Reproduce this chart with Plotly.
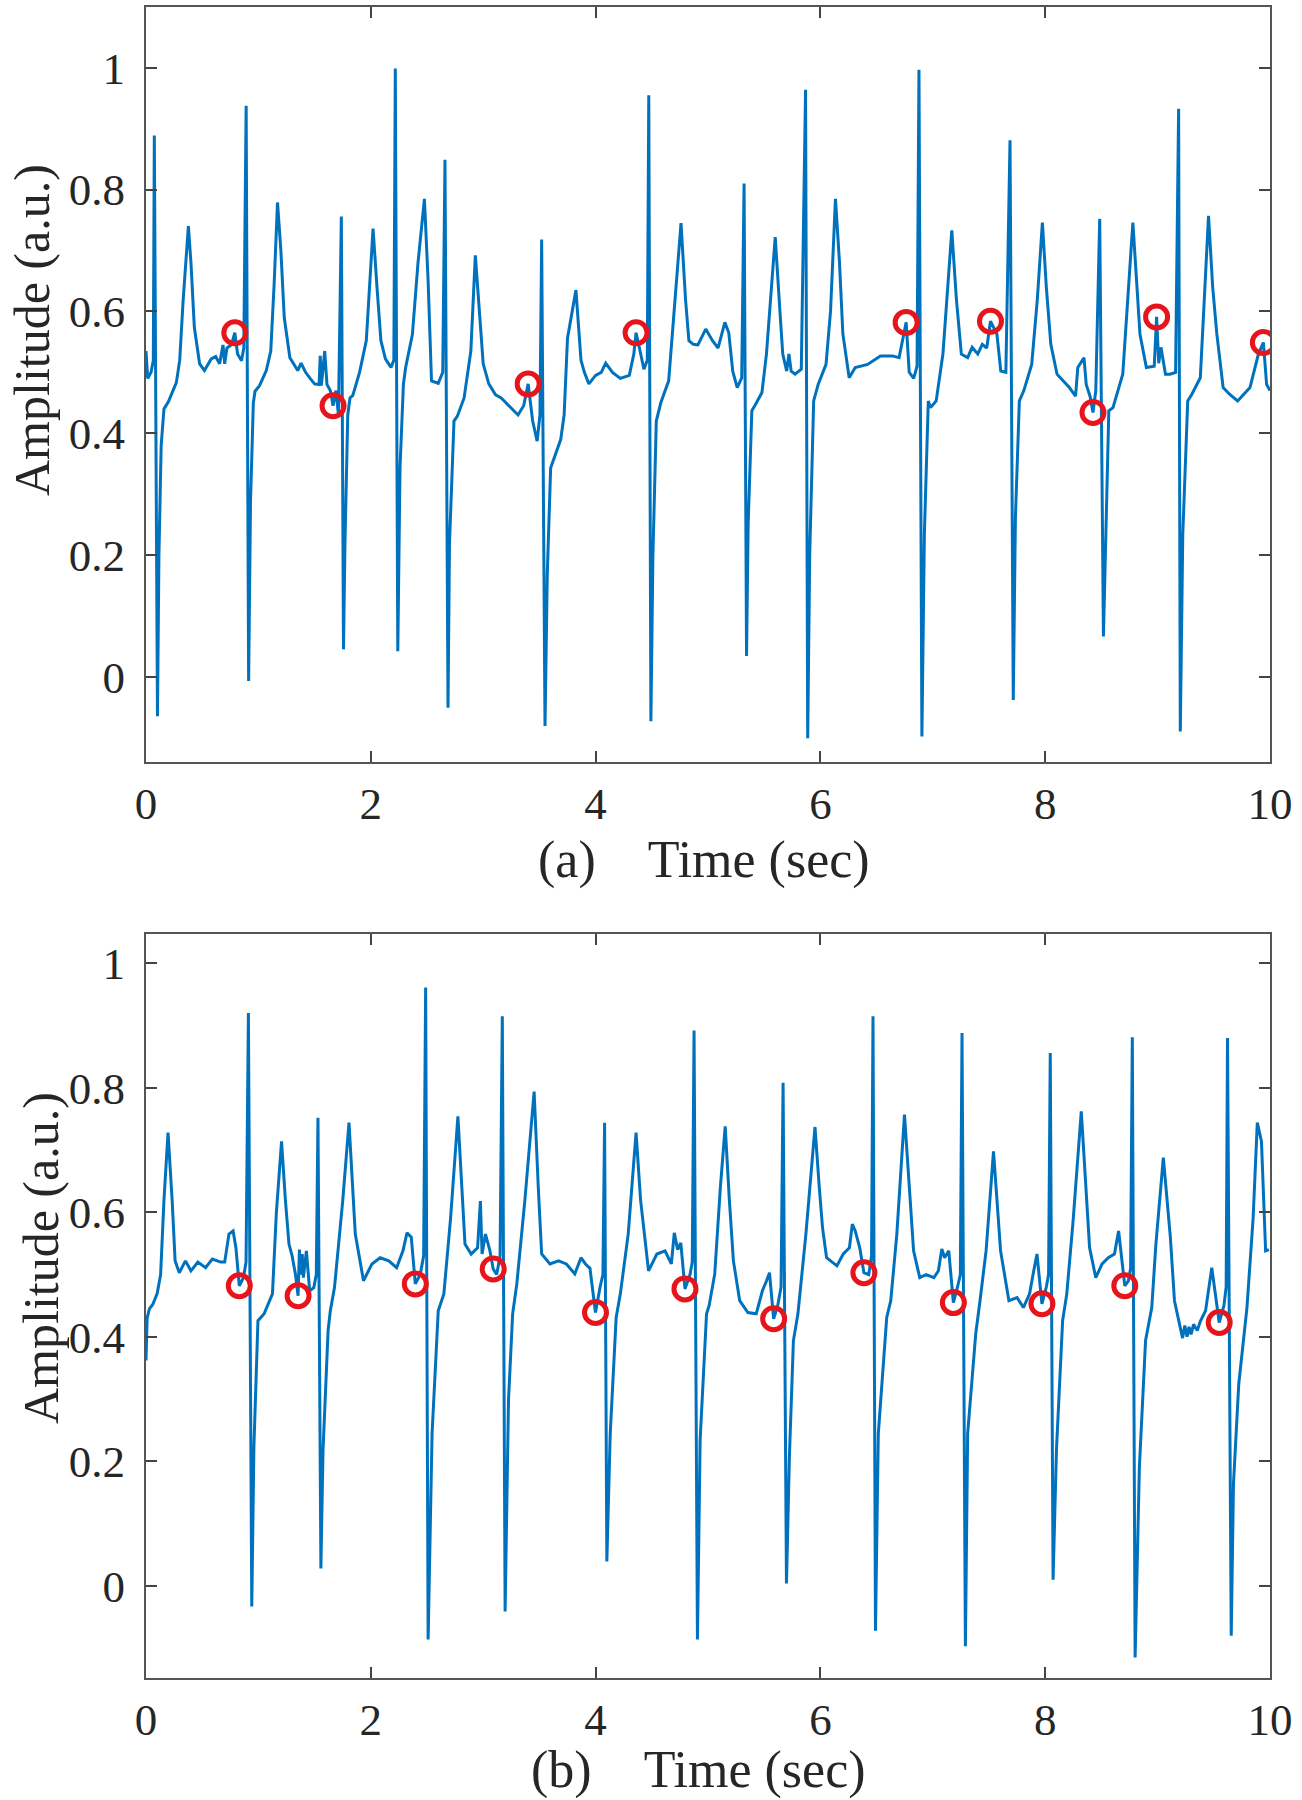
import plotly.graph_objects as go

# ---------------- Panel (a) ECG trace (time in s, amplitude in a.u.) ----------------
time_a = [
    0.000, 0.015, 0.045, 0.065, 0.074, 0.102, 0.115, 0.135, 0.160, 0.200,
    0.240, 0.270, 0.300, 0.330, 0.377, 0.400, 0.430, 0.477, 0.520, 0.580,
    0.620, 0.655, 0.685, 0.700, 0.720, 0.760, 0.790, 0.815, 0.850, 0.870,
    0.891, 0.913, 0.930, 0.955, 0.970, 1.010, 1.070, 1.110, 1.140, 1.170,
    1.200, 1.230, 1.280, 1.350, 1.380, 1.420, 1.460, 1.500, 1.540, 1.550,
    1.560, 1.590, 1.610, 1.640, 1.664, 1.690, 1.712, 1.738, 1.757, 1.770,
    1.795, 1.815, 1.840, 1.900, 1.960, 2.020, 2.055, 2.090, 2.130, 2.180,
    2.205, 2.218, 2.240, 2.260, 2.290, 2.310, 2.370, 2.420, 2.477, 2.510,
    2.540, 2.600, 2.640, 2.660, 2.687, 2.700, 2.740, 2.770, 2.830, 2.890,
    2.930, 2.965, 3.000, 3.050, 3.110, 3.160, 3.220, 3.310, 3.360, 3.400,
    3.440, 3.480, 3.505, 3.520, 3.550, 3.570, 3.600, 3.650, 3.690, 3.720,
    3.750, 3.825, 3.870, 3.900, 3.940, 4.000, 4.050, 4.090, 4.150, 4.220,
    4.300, 4.340, 4.360, 4.390, 4.430, 4.460, 4.473, 4.492, 4.510, 4.540,
    4.580, 4.650, 4.700, 4.760, 4.800, 4.830, 4.870, 4.910, 4.980, 5.040,
    5.090, 5.150, 5.185, 5.220, 5.260, 5.300, 5.321, 5.343, 5.357, 5.390,
    5.425, 5.480, 5.520, 5.598, 5.640, 5.665, 5.700, 5.720, 5.740, 5.775,
    5.830, 5.868, 5.887, 5.905, 5.940, 5.980, 6.050, 6.090, 6.134, 6.170,
    6.200, 6.256, 6.310, 6.420, 6.534, 6.640, 6.700, 6.740, 6.763, 6.790,
    6.830, 6.860, 6.877, 6.903, 6.925, 6.960, 6.980, 7.030, 7.090, 7.169,
    7.210, 7.254, 7.310, 7.350, 7.400, 7.440, 7.480, 7.513, 7.570, 7.605,
    7.650, 7.687, 7.716, 7.735, 7.770, 7.810, 7.880, 7.930, 7.975, 8.010,
    8.050, 8.105, 8.160, 8.215, 8.270, 8.290, 8.345, 8.365, 8.400, 8.425,
    8.450, 8.485, 8.518, 8.537, 8.566, 8.603, 8.690, 8.780, 8.810, 8.843,
    8.900, 8.970, 8.991, 9.010, 9.030, 9.070, 9.110, 9.160, 9.187, 9.202,
    9.224, 9.268, 9.305, 9.380, 9.410, 9.453, 9.490, 9.527, 9.583, 9.640,
    9.712, 9.770, 9.822, 9.897, 9.941, 9.970, 10.000,
]
amp_a = [
    0.535, 0.490, 0.500, 0.520, 0.889, -0.065, 0.200, 0.380, 0.440, 0.452,
    0.470, 0.483, 0.520, 0.617, 0.740, 0.680, 0.574, 0.514, 0.503, 0.522,
    0.526, 0.514, 0.545, 0.514, 0.540, 0.545, 0.565, 0.530, 0.519, 0.540,
    0.938, -0.007, 0.290, 0.450, 0.469, 0.478, 0.503, 0.535, 0.645, 0.779,
    0.700, 0.590, 0.524, 0.503, 0.515, 0.500, 0.490, 0.481, 0.480, 0.527,
    0.478, 0.535, 0.480, 0.470, 0.445, 0.470, 0.430, 0.756, 0.045, 0.218,
    0.430, 0.458, 0.462, 0.500, 0.552, 0.736, 0.640, 0.552, 0.522, 0.508,
    0.520, 0.999, 0.042, 0.343, 0.480, 0.508, 0.562, 0.680, 0.785, 0.650,
    0.486, 0.482, 0.500, 0.849, -0.051, 0.218, 0.420, 0.428, 0.458, 0.535,
    0.692, 0.600, 0.514, 0.481, 0.463, 0.458, 0.447, 0.430, 0.445, 0.481,
    0.420, 0.387, 0.430, 0.718, -0.081, 0.168, 0.343, 0.370, 0.390, 0.430,
    0.556, 0.635, 0.520, 0.500, 0.481, 0.495, 0.500, 0.515, 0.500, 0.490,
    0.495, 0.530, 0.565, 0.540, 0.505, 0.520, 0.955, -0.073, 0.200, 0.420,
    0.450, 0.486, 0.600, 0.745, 0.620, 0.552, 0.546, 0.545, 0.571, 0.552,
    0.540, 0.582, 0.565, 0.502, 0.475, 0.491, 0.810, 0.034, 0.250, 0.437,
    0.448, 0.467, 0.530, 0.722, 0.600, 0.530, 0.502, 0.530, 0.502, 0.497,
    0.505, 0.964, -0.101, 0.201, 0.453, 0.480, 0.513, 0.600, 0.785, 0.680,
    0.563, 0.491, 0.508, 0.513, 0.527, 0.527, 0.524, 0.565, 0.582, 0.500,
    0.490, 0.510, 0.997, -0.098, 0.234, 0.453, 0.442, 0.453, 0.530, 0.733,
    0.620, 0.530, 0.524, 0.541, 0.530, 0.546, 0.540, 0.584, 0.563, 0.502,
    0.500, 0.881, -0.038, 0.261, 0.453, 0.470, 0.513, 0.620, 0.746, 0.640,
    0.546, 0.497, 0.486, 0.475, 0.461, 0.508, 0.524, 0.480, 0.460, 0.434,
    0.470, 0.752, 0.066, 0.228, 0.437, 0.442, 0.497, 0.746, 0.650, 0.563,
    0.508, 0.510, 0.591, 0.515, 0.541, 0.497, 0.497, 0.500, 0.933, -0.090,
    0.234, 0.453, 0.464, 0.491, 0.600, 0.757, 0.640, 0.563, 0.475, 0.464,
    0.453, 0.465, 0.475, 0.530, 0.549, 0.480, 0.470,
]
mark_t_a = [0.790, 1.664, 3.400, 4.360, 6.763, 7.513, 8.425, 8.991, 9.941]
mark_v_a = [0.565, 0.445, 0.481, 0.565, 0.582, 0.584, 0.434, 0.591, 0.549]

# ---------------- Panel (b) ECG trace ----------------
time_b = [
    0.000, 0.010, 0.030, 0.060, 0.100, 0.130, 0.160, 0.196, 0.233, 0.259,
    0.296, 0.351, 0.400, 0.461, 0.530, 0.590, 0.664, 0.700, 0.738, 0.775,
    0.800, 0.830, 0.867, 0.890, 0.911, 0.941, 0.960, 0.996, 1.051, 1.125,
    1.160, 1.206, 1.240, 1.272, 1.300, 1.330, 1.353, 1.365, 1.375, 1.390,
    1.400, 1.427, 1.456, 1.493, 1.515, 1.530, 1.556, 1.575, 1.620, 1.640,
    1.677, 1.750, 1.806, 1.840, 1.862, 1.935, 2.010, 2.083, 2.160, 2.230,
    2.286, 2.322, 2.360, 2.396, 2.440, 2.470, 2.488, 2.510, 2.545, 2.600,
    2.650, 2.710, 2.775, 2.810, 2.838, 2.893, 2.950, 2.975, 2.990, 3.020,
    3.060, 3.089, 3.120, 3.150, 3.170, 3.195, 3.225, 3.262, 3.299, 3.370,
    3.453, 3.490, 3.520, 3.594, 3.670, 3.740, 3.815, 3.870, 3.910, 3.950,
    3.999, 4.040, 4.065, 4.080, 4.100, 4.130, 4.183, 4.220, 4.290, 4.360,
    4.400, 4.471, 4.545, 4.618, 4.674, 4.700, 4.730, 4.758, 4.795, 4.840,
    4.860, 4.876, 4.906, 4.930, 4.987, 5.010, 5.060, 5.110, 5.153, 5.190,
    5.226, 5.282, 5.355, 5.429, 5.484, 5.521, 5.547, 5.584, 5.620, 5.650,
    5.668, 5.698, 5.724, 5.760, 5.800, 5.871, 5.952, 5.990, 6.019, 6.055,
    6.092, 6.147, 6.203, 6.258, 6.284, 6.310, 6.350, 6.387, 6.430, 6.455,
    6.468, 6.490, 6.515, 6.590, 6.626, 6.680, 6.748, 6.790, 6.829, 6.884,
    6.940, 7.010, 7.050, 7.080, 7.105, 7.142, 7.183, 7.220, 7.245, 7.260,
    7.290, 7.310, 7.382, 7.420, 7.474, 7.540, 7.570, 7.603, 7.677, 7.750,
    7.806, 7.861, 7.898, 7.927, 7.953, 7.971, 8.010, 8.030, 8.045, 8.070,
    8.100, 8.155, 8.192, 8.248, 8.321, 8.360, 8.395, 8.450, 8.506, 8.561,
    8.616, 8.653, 8.690, 8.708, 8.740, 8.760, 8.775, 8.800, 8.838, 8.893,
    8.948, 8.985, 9.051, 9.085, 9.114, 9.150, 9.187, 9.205, 9.222, 9.242,
    9.262, 9.280, 9.298, 9.320, 9.353, 9.380, 9.427, 9.482, 9.519, 9.548,
    9.590, 9.610, 9.622, 9.655, 9.675, 9.722, 9.795, 9.850, 9.887, 9.924,
    9.961, 9.990,
]
amp_b = [
    0.362, 0.430, 0.445, 0.452, 0.470, 0.500, 0.620, 0.728, 0.618, 0.522,
    0.503, 0.522, 0.506, 0.520, 0.511, 0.525, 0.520, 0.520, 0.565, 0.570,
    0.543, 0.482, 0.495, 0.520, 0.920, -0.033, 0.223, 0.426, 0.437, 0.469,
    0.600, 0.714, 0.620, 0.549, 0.530, 0.500, 0.466, 0.540, 0.500, 0.533,
    0.495, 0.538, 0.474, 0.479, 0.500, 0.752, 0.028, 0.218, 0.410, 0.442,
    0.479, 0.618, 0.744, 0.640, 0.565, 0.490, 0.517, 0.527, 0.522, 0.511,
    0.538, 0.567, 0.560, 0.485, 0.500, 0.530, 0.961, -0.086, 0.244, 0.442,
    0.469, 0.591, 0.754, 0.640, 0.549, 0.533, 0.543, 0.618, 0.533, 0.565,
    0.538, 0.509, 0.500, 0.530, 0.915, -0.041, 0.298, 0.437, 0.485, 0.618,
    0.794, 0.640, 0.533, 0.517, 0.522, 0.517, 0.501, 0.527, 0.517, 0.510,
    0.439, 0.480, 0.500, 0.744, 0.039, 0.244, 0.431, 0.469, 0.565, 0.728,
    0.620, 0.506, 0.533, 0.538, 0.517, 0.567, 0.540, 0.551, 0.477, 0.500,
    0.520, 0.892, -0.086, 0.234, 0.437, 0.450, 0.501, 0.640, 0.738, 0.620,
    0.522, 0.458, 0.439, 0.437, 0.474, 0.490, 0.503, 0.429, 0.450, 0.480,
    0.808, 0.004, 0.207, 0.394, 0.437, 0.565, 0.737, 0.640, 0.575, 0.527,
    0.522, 0.514, 0.533, 0.543, 0.581, 0.570, 0.543, 0.503, 0.500, 0.530,
    0.915, -0.072, 0.244, 0.431, 0.458, 0.565, 0.757, 0.640, 0.538, 0.495,
    0.500, 0.495, 0.506, 0.541, 0.527, 0.538, 0.455, 0.480, 0.500, 0.888,
    -0.097, 0.244, 0.405, 0.458, 0.538, 0.698, 0.620, 0.538, 0.458, 0.463,
    0.447, 0.469, 0.506, 0.533, 0.485, 0.453, 0.480, 0.500, 0.856, 0.010,
    0.218, 0.426, 0.469, 0.586, 0.762, 0.640, 0.543, 0.495, 0.517, 0.527,
    0.533, 0.570, 0.511, 0.482, 0.490, 0.510, 0.881, -0.115, 0.191, 0.394,
    0.447, 0.549, 0.688, 0.620, 0.559, 0.458, 0.426, 0.412, 0.398, 0.418,
    0.400, 0.416, 0.404, 0.420, 0.410, 0.425, 0.442, 0.511, 0.458, 0.423,
    0.450, 0.480, 0.880, -0.080, 0.164, 0.324, 0.447, 0.591, 0.744, 0.714,
    0.538, 0.540,
]
mark_t_b = [0.830, 1.353, 2.396, 3.089, 3.999, 4.795, 5.584, 6.387, 7.183, 7.971, 8.708, 9.548]
mark_v_b = [0.482, 0.466, 0.485, 0.509, 0.439, 0.477, 0.429, 0.503, 0.455, 0.453, 0.482, 0.423]

x_ticks = [0, 2, 4, 6, 8, 10]
y_ticks = [0, 0.2, 0.4, 0.6, 0.8, 1]
y_tick_text = ["0", "0.2", "0.4", "0.6", "0.8", "1"]

LINE = "#0072BD"
RED = "#E8141B"
FONT = "Liberation Serif, Times New Roman, serif"
TXT = "#262626"
NB = "\u00a0"

fig = go.Figure()
marker_style = dict(symbol="circle-open", size=22, color=RED, line=dict(width=5, color=RED))
fig.add_trace(go.Scatter(x=time_a, y=amp_a, mode="lines", line=dict(color=LINE, width=3),
                         xaxis="x", yaxis="y", showlegend=False, hoverinfo="skip"))
fig.add_trace(go.Scatter(x=mark_t_a, y=mark_v_a, mode="markers", marker=marker_style,
                         xaxis="x", yaxis="y", showlegend=False, hoverinfo="skip"))
fig.add_trace(go.Scatter(x=time_b, y=amp_b, mode="lines", line=dict(color=LINE, width=3),
                         xaxis="x2", yaxis="y2", showlegend=False, hoverinfo="skip"))
fig.add_trace(go.Scatter(x=mark_t_b, y=mark_v_b, mode="markers", marker=marker_style,
                         xaxis="x2", yaxis="y2", showlegend=False, hoverinfo="skip"))

W, H = 1302, 1800
xdom = [146 / W, 1270 / W]
ydom_a = [1 - 762 / H, 1 - 7 / H]
ydom_b = [1 - 1678 / H, 1 - 934 / H]

common_x = dict(range=[0, 10], tickvals=x_ticks, ticktext=[str(v) for v in x_ticks],
                ticks="inside", ticklen=11, tickwidth=1.5, tickcolor="#444444",
                showline=True, linewidth=2, linecolor="#555555", mirror="allticks",
                showgrid=False, zeroline=False, domain=xdom, automargin=False,
                tickfont=dict(family=FONT, size=45, color=TXT), ticklabelstandoff=1)
common_y = dict(tickvals=y_ticks, ticktext=y_tick_text,
                ticks="inside", ticklen=11, tickwidth=1.5, tickcolor="#444444",
                showline=True, linewidth=2, linecolor="#555555", mirror="allticks",
                showgrid=False, zeroline=False, automargin=False,
                tickfont=dict(family=FONT, size=45, color=TXT), ticklabelstandoff=10)

fig.update_layout(
    width=W, height=H, margin=dict(l=0, r=0, t=0, b=0, pad=0), autosize=False,
    paper_bgcolor="white", plot_bgcolor="white",
    xaxis=dict(**common_x, anchor="y"),
    yaxis=dict(**common_y, range=[-0.14, 1.1], domain=ydom_a, anchor="x"),
    xaxis2=dict(**common_x, anchor="y2"),
    yaxis2=dict(**common_y, range=[-0.148, 1.047], domain=ydom_b, anchor="x2"),
    annotations=[
        dict(text="(a)" + NB * 4 + "Time (sec)", x=704 / W, y=1 - 860 / H, xref="paper", yref="paper",
             showarrow=False, font=dict(family=FONT, size=52, color=TXT), xanchor="center", yanchor="middle"),
        dict(text="(b)" + NB * 4 + "Time (sec)", x=698 / W, y=1 - 1770 / H, xref="paper", yref="paper",
             showarrow=False, font=dict(family=FONT, size=52, color=TXT), xanchor="center", yanchor="middle"),
        dict(text="Amplitude (a.u.)", x=32 / W, y=1 - 330 / H, xref="paper", yref="paper", textangle=-90,
             showarrow=False, font=dict(family=FONT, size=50, color=TXT), xanchor="center", yanchor="middle"),
        dict(text="Amplitude (a.u.)", x=41 / W, y=1 - 1258 / H, xref="paper", yref="paper", textangle=-90,
             showarrow=False, font=dict(family=FONT, size=50, color=TXT), xanchor="center", yanchor="middle"),
    ],
)

fig.write_html("out.html",
               config={"displayModeBar": False, "responsive": False},
               post_script="document.body.style.margin='0';document.body.style.overflow='hidden';")
